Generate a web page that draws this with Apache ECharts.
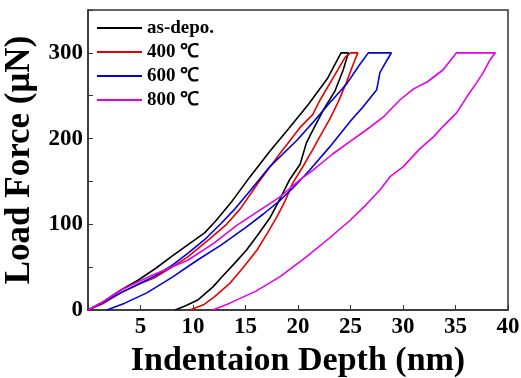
<!DOCTYPE html>
<html>
<head>
<meta charset="utf-8">
<script src="https://cdn.jsdelivr.net/npm/echarts@6/dist/echarts.min.js"></script>
<style>
html, body { margin: 0; padding: 0; background: #fff; }
#main { width: 521px; height: 378px; }
</style>
</head>
<body>
<div id="main"></div>
<script>
// load/unload curves, [depth nm, force uN]
var depo = [[0,0],[1.5,10],[3.1,23],[4.8,35],[6.5,49],[7.9,62],[9.5,76],[11.1,90],[12.1,103],[13.6,125],[15.4,155],[17.3,185],[19.2,213],[21,240],[22.8,270],[24.1,300],
  [24.8,300],[24.3,280],[23.5,255],[22.4,233],[21.5,212],[20.8,195],[20.2,170],[19.2,152],[18.3,130],[17.3,107],[16.2,88],[15.1,70],[14,55],[12.7,38],[11.9,27],[10.5,12],[9.3,5],[8.3,0]];

var t400 = [[0,0],[1.5,8],[3.1,20],[4.8,30],[6.4,38],[8,50],[9.5,62],[11.5,82],[13.2,100],[14.5,118],[16.3,150],[18.3,183],[20.2,213],[21.4,228],[22.1,245],[23.3,270],[24.5,295],[25,300],
  [25.7,300],[25.2,285],[24.6,265],[23.8,242],[23,222],[22.2,205],[21.4,187],[20.5,168],[19.5,148],[18.8,128],[18,109],[17.1,90],[16.1,70],[14.8,50],[13.5,31],[12,15],[11,6],[9.7,0]];

var t600 = [[0,0],[1.5,9],[3.1,20],[4.8,30],[6.4,40],[8,52],[9.5,66],[11.1,82],[12.6,100],[14,118],[15.5,140],[17.3,167],[19.9,198],[21.5,220],[22.9,240],[24,255],[24.7,265],[25.8,285],[26.7,300],
  [28.9,300],[28.5,292],[27.8,277],[27.5,257],[26.2,237],[25.1,222],[23,190],[21.1,163],[19.5,142],[18.3,128],[16.7,112],[15.1,97],[12.7,76],[10.4,58],[8,38],[5.6,20],[3.5,8],[1.8,0]];

var t800 = [[0,0],[1.5,10],[3.1,23],[6,40],[9.5,58],[12,78],[14.2,99],[16.3,116],[18.3,132],[20.2,152],[21.4,163],[23.3,182],[25,197],[26.5,210],[28.2,226],[29.7,245],[31,258],[32.3,266],[33.8,280],[35.1,300],
  [38.8,300],[38.3,292],[37.6,276],[37,265],[36.1,249],[35.1,230],[33.8,214],[32.9,202],[31.6,188],[30,167],[28.8,156],[27.8,140],[26.5,123],[25,105],[23,84],[20.8,62],[18.3,39],[16,22],[13.5,8],[11.9,0]];

var names = ['as-depo.', '400 ℃', '600 ℃', '800 ℃'];
var colors = ['#000000', '#e60000', '#0000e0', '#e600e6'];
var curves = [depo, t400, t600, t800];

var font = '"Liberation Serif", "Times New Roman", serif';

var myChart = echarts.init(document.getElementById('main'));

var series = [];
for (var i = 0; i < curves.length; i++) {
    series.push({
        name: names[i],
        type: 'line',
        data: curves[i],
        symbol: 'none',
        lineStyle: { color: colors[i], width: 1.6 },
        itemStyle: { color: colors[i] }
    });
}

option = {
    animation: false,
    grid: {
        left: 88, right: 13, top: 10, bottom: 68,
        outerBoundsMode: 'none',
        show: true,
        borderColor: '#333',
        borderWidth: 1.5
    },
    legend: {
        data: names,
        orient: 'vertical',
        left: 92,
        top: 13,
        icon: 'path://M0,0 L45,0 L45,2 L0,2 Z',
        itemWidth: 45,
        itemHeight: 14,
        itemGap: 4,
        textStyle: { fontFamily: font, fontWeight: 'bold', fontSize: 19, lineHeight: 20, color: '#000' }
    },
    xAxis: {
        type: 'value',
        min: 0, max: 40, interval: 5,
        name: 'Indentaion Depth (nm)',
        nameLocation: 'middle',
        nameGap: 33,
        nameTextStyle: { fontFamily: font, fontWeight: 'bold', fontSize: 34, color: '#000' },
        axisLine: { lineStyle: { color: '#333', width: 1.5 } },
        axisTick: { inside: true, length: 5, lineStyle: { color: '#333' } },
        axisLabel: {
            fontFamily: font, fontWeight: 'bold', fontSize: 23, color: '#000', margin: 6,
            formatter: function (v) { return v === 0 ? '' : v; }
        },
        splitLine: { show: false }
    },
    yAxis: {
        type: 'value',
        min: 0, max: 350, interval: 50,
        name: 'Load Force (μN)',
        nameLocation: 'middle',
        nameGap: 44,
        nameTextStyle: { fontFamily: font, fontWeight: 'bold', fontSize: 35, color: '#000' },
        axisLine: { show: true, lineStyle: { color: '#333', width: 1.5 } },
        axisTick: { inside: true, length: 5, lineStyle: { color: '#333' } },
        axisLabel: {
            fontFamily: font, fontWeight: 'bold', fontSize: 23, color: '#000', margin: 5,
            formatter: function (v) { return (v % 100 === 0 && v < 350) ? v : ''; }
        },
        splitLine: { show: false }
    },
    series: series
};

myChart.setOption(option);
</script>
</body>
</html>
